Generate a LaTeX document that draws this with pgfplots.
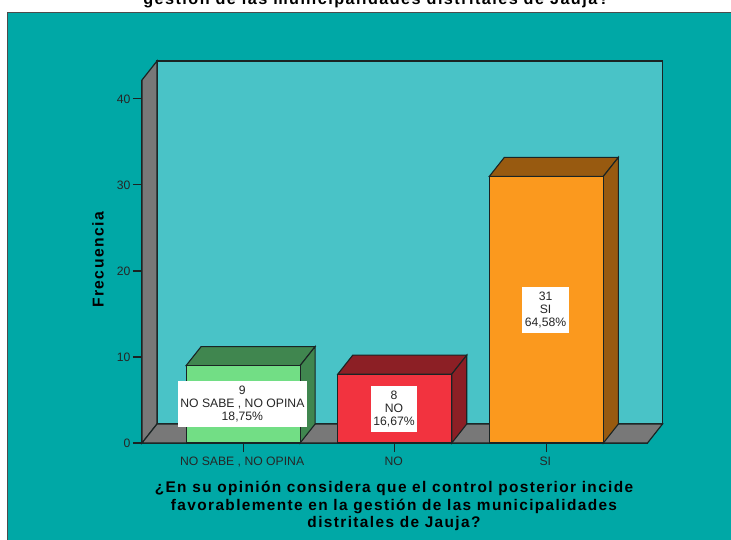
\documentclass[border=0pt]{standalone}
\usepackage{pgfplots}
\pgfplotsset{compat=1.18}
\usepackage{fontspec}
\setmainfont{Liberation Sans}
\newfontfamily\headfont[LetterSpace=9]{Liberation Sans}
\definecolor{panel}{HTML}{00A8A6}
\definecolor{wall}{HTML}{49C3C7}
\definecolor{side}{HTML}{787878}
\definecolor{edge}{HTML}{1A2424}
\definecolor{greenF}{HTML}{72DE85}
\definecolor{greenD}{HTML}{40864F}
\definecolor{redF}{HTML}{F2333F}
\definecolor{redD}{HTML}{8C1F25}
\definecolor{orangeF}{HTML}{FB991E}
\definecolor{orangeD}{HTML}{985A10}
\begin{document}
\begin{tikzpicture}[x=1pt,y=1pt]
\path[use as bounding box] (0,0) rectangle (731,-540);
\clip (0,0) rectangle (731,-540);
\fill[white] (0,0) rectangle (731,-540);
% outer panel
\filldraw[fill=panel,draw=black!70,line width=0.8pt] (7,-12) rectangle (740,-550);
\begin{axis}[
  at={(142pt,-443pt)}, anchor=south west,
  scale only axis, width=505.5pt, height=363pt,
  xmin=-0.667, xmax=2.667, ymin=0, ymax=42.2,
  clip=false,
  axis x line*=bottom, axis y line*=left,
  axis line style={draw=edge,line width=1.2pt,-},
  tick style={draw=edge,line width=1.1pt},
  major tick length=9pt,
  xtick={0,1,2}, xticklabels={{NO SABE , NO OPINA},{NO},{SI}},
  ytick={0,10,20,30,40},
  tick align=outside,
  tick label style={font=\fontsize{12.2}{13}\selectfont,text=black!85},
  /pgf/number format/assume math mode=true,
  xticklabel style={yshift=-1.5pt,xshift=-1pt},
  yticklabel style={xshift=1pt},
]
% back wall, side wall and floor
\addplot[fill=wall,draw=edge,line width=1.2pt] coordinates {(-0.568,2.21) (-0.568,44.41) (2.766,44.41) (2.766,2.21)} --cycle;
\addplot[fill=side,draw=edge,line width=1.2pt] coordinates {(-0.667,0) (-0.667,42.2) (-0.568,44.41) (-0.568,2.21)} --cycle;
\addplot[fill=side,draw=edge,line width=1.2pt] coordinates {(-0.667,0) (2.667,0) (2.766,2.21) (-0.568,2.21)} --cycle;
% top and side faces of each column
\addplot[fill=greenD,draw=edge,line width=1.1pt] coordinates {(-0.376,9) (-0.277,11.21) (0.475,11.21) (0.376,9)} --cycle;
\addplot[fill=greenD,draw=edge,line width=1.1pt] coordinates {(0.376,0) (0.376,9) (0.475,11.21) (0.475,2.21)} --cycle;
\addplot[fill=redD,draw=edge,line width=1.1pt] coordinates {(0.624,8) (0.723,10.21) (1.475,10.21) (1.376,8)} --cycle;
\addplot[fill=redD,draw=edge,line width=1.1pt] coordinates {(1.376,0) (1.376,8) (1.475,10.21) (1.475,2.21)} --cycle;
\addplot[fill=orangeD,draw=edge,line width=1.1pt] coordinates {(1.624,31) (1.723,33.21) (2.475,33.21) (2.376,31)} --cycle;
\addplot[fill=orangeD,draw=edge,line width=1.1pt] coordinates {(2.376,0) (2.376,31) (2.475,33.21) (2.475,2.21)} --cycle;
% front faces
\addplot[ybar,bar width=0.752,bar shift=0pt,fill=greenF,draw=edge,line width=1.1pt] coordinates {(0,9)};
\addplot[ybar,bar width=0.752,bar shift=0pt,fill=redF,draw=edge,line width=1.1pt] coordinates {(1,8)};
\addplot[ybar,bar width=0.752,bar shift=0pt,fill=orangeF,draw=edge,line width=1.1pt] coordinates {(2,31)};
% value labels
\tikzset{vlab/.style={fill=white,align=center,inner xsep=2.5pt,inner ysep=5pt,
  font=\fontsize{12.2}{13}\selectfont,text=black!85}}
\node[vlab] at (axis cs:-0.005,4.5) {9\\NO SABE , NO OPINA\\18,75\%};
\node[vlab] at (axis cs:0.995,4) {8\\NO\\16,67\%};
\node[vlab] at (axis cs:1.995,15.5) {31\\SI\\64,58\%};
\end{axis}
% title and axis titles
\node[anchor=base,align=center,font=\headfont\bfseries\fontsize{16.2}{16}\selectfont] at (376,-4.5) {gestión de las municipalidades distritales de Jauja?};
\node[rotate=90,anchor=center,font=\headfont\bfseries\fontsize{15.7}{16}\selectfont] at (98,-260) {Frecuencia};
\node[anchor=center,align=center,font=\headfont\bfseries\fontsize{15.4}{17.5}\selectfont] at (394,-506) {¿En su opinión considera que el control posterior incide\\favorablemente en la gestión de las municipalidades\\distritales de Jauja?};
\end{tikzpicture}
\end{document}
